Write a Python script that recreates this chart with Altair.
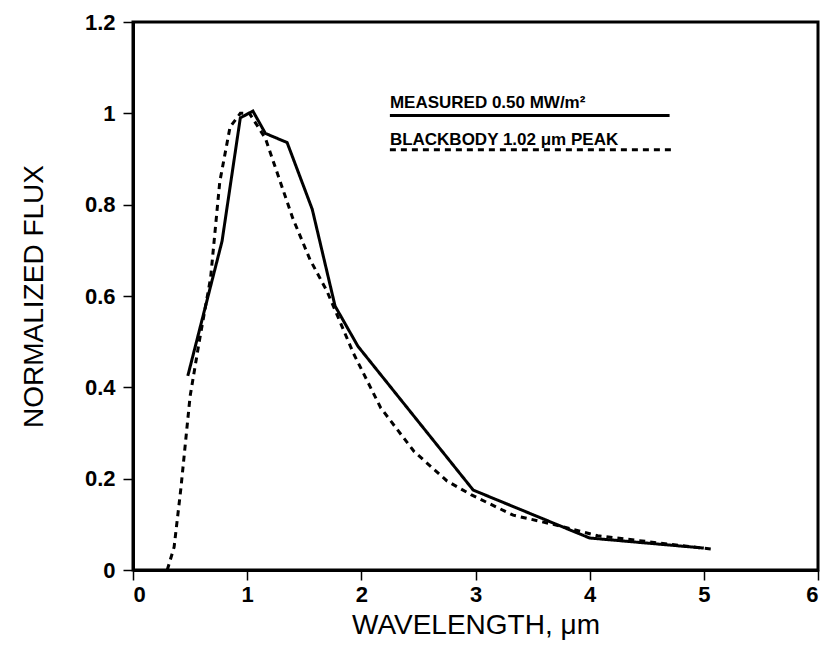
import altair as alt
import pandas as pd

# Measured spectrum (solid)
meas_x = [0.48, 0.78, 0.94, 1.05, 1.16, 1.35, 1.57, 1.77, 1.97, 2.98, 4.0, 5.0]
meas_y = [0.425, 0.72, 0.99, 1.005, 0.956, 0.936, 0.79, 0.578, 0.49, 0.175, 0.07, 0.048]

# Blackbody curve (dashed)
bb_x = [0.30, 0.36, 0.42, 0.50, 0.58, 0.68, 0.76, 0.85, 0.94, 1.02, 1.16, 1.29, 1.40,
        1.55, 1.70, 1.93, 2.17, 2.46, 2.75, 2.96, 3.33, 3.68, 4.07, 5.09]
bb_y = [0.0, 0.05, 0.18, 0.38, 0.50, 0.64, 0.85, 0.97, 1.0, 1.0, 0.945, 0.85, 0.77,
        0.68, 0.61, 0.475, 0.355, 0.26, 0.195, 0.165, 0.12, 0.10, 0.075, 0.045]

series_names = ["MEASURED 0.50 MW/m²", "BLACKBODY 1.02 μm PEAK"]

x_ticks = [0, 1, 2, 3, 4, 5, 6]
y_ticks = [0, 0.2, 0.4, 0.6, 0.8, 1, 1.2]

df = pd.concat([
    pd.DataFrame({"x": meas_x, "y": meas_y, "series": series_names[0]}),
    pd.DataFrame({"x": bb_x, "y": bb_y, "series": series_names[1]}),
])

# in-plot legend (underlined labels), in data units
leg = pd.DataFrame({
    "series": series_names,
    "x0": [2.25, 2.25],
    "x1": [4.70, 4.72],
    "ly": [0.995, 0.92],
    "ty": [1.012, 0.93],
})

FONT = "Liberation Sans"

xscale = alt.Scale(domain=[0, 6], nice=False, zero=False)
yscale = alt.Scale(domain=[0, 1.2], nice=False)
dash = alt.Scale(domain=series_names, range=[[1, 0], [6, 5]])

lines = alt.Chart(df).mark_line(color="black", strokeWidth=3).encode(
    x=alt.X("x:Q", scale=xscale,
            axis=alt.Axis(title="WAVELENGTH, μm", values=x_ticks, format="~g")),
    y=alt.Y("y:Q", scale=yscale,
            axis=alt.Axis(title="NORMALIZED FLUX", values=y_ticks, format="~g")),
    strokeDash=alt.StrokeDash("series:N", scale=dash, legend=None),
    detail="series:N",
)

leg_rules = alt.Chart(leg).mark_rule(color="black", strokeWidth=3).encode(
    x="x0:Q", x2="x1:Q", y="ly:Q",
    strokeDash=alt.StrokeDash("series:N", scale=dash, legend=None),
)

leg_text = alt.Chart(leg).mark_text(
    align="left", baseline="alphabetic", font=FONT, fontSize=17,
    fontWeight="bold", color="black"
).encode(x="x0:Q", y="ty:Q", text="series:N")

chart = alt.layer(lines, leg_rules, leg_text).properties(
    width=685, height=548,
    autosize=alt.AutoSizeParams(type="none"),
    padding={"left": 133, "top": 22, "right": 5, "bottom": 82},
    background="white",
).configure_view(
    stroke="black", strokeWidth=3
).configure_axis(
    grid=False, domain=True, domainColor="black", domainWidth=3,
    ticks=True, tickColor="black", tickSize=10, tickWidth=1.5,
    labelFont=FONT, labelFontSize=22, labelFontWeight="bold", labelColor="black",
    titleFont=FONT, titleFontWeight="normal", titleColor="black",
).configure_axisX(
    labelPadding=4, titlePadding=6, titleFontSize=28
).configure_axisY(
    labelPadding=8, titlePadding=36, titleFontSize=28
)

chart.save("out.html", embed_options={"renderer": "svg", "actions": False})
